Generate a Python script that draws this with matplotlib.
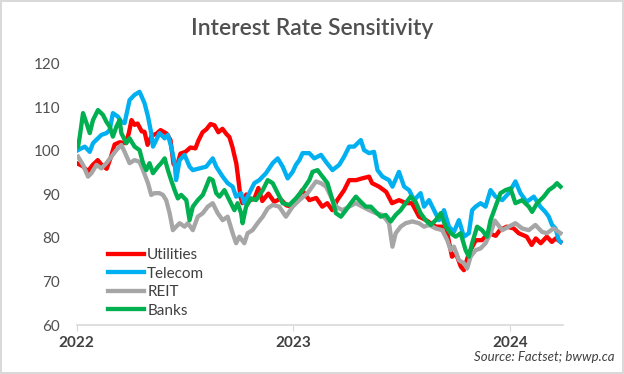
import numpy as np
import matplotlib.pyplot as plt

# time in fractional years, values are index levels
util_t = [0.000, 0.028, 0.051, 0.074, 0.097, 0.115, 0.138, 0.157, 0.175, 0.198,
          0.226, 0.240, 0.253, 0.267, 0.281, 0.300, 0.313, 0.327, 0.346, 0.369,
          0.387, 0.415, 0.433, 0.447, 0.461, 0.479, 0.502, 0.525, 0.548, 0.562,
          0.581, 0.599, 0.618, 0.636, 0.654, 0.673, 0.691, 0.705, 0.719, 0.737,
          0.747, 0.756, 0.765, 0.783, 0.802, 0.820, 0.839, 0.857, 0.885, 0.912,
          0.940, 0.968, 0.995, 1.023, 1.041, 1.074, 1.106, 1.134, 1.157, 1.180,
          1.203, 1.235, 1.258, 1.290, 1.318, 1.350, 1.364, 1.396, 1.429, 1.456,
          1.488, 1.521, 1.548, 1.581, 1.613, 1.659, 1.705, 1.733, 1.751, 1.774,
          1.788, 1.811, 1.843, 1.871, 1.903, 1.935, 1.954, 1.986, 2.018, 2.041,
          2.078, 2.101, 2.120, 2.143, 2.171, 2.194, 2.212, 2.235]
util_v = [97.2, 96.5, 95.3, 96.8, 97.9, 96.8, 95.9, 98.5, 101.5, 102.0,
          101.8, 104.0, 107.1, 106.0, 106.3, 104.5, 104.4, 101.4, 103.5, 104.0,
          104.8, 104.0, 102.5, 97.0, 96.3, 99.4, 99.8, 100.8, 100.6, 102.4,
          104.3, 105.0, 106.2, 105.9, 104.3, 105.1, 103.9, 103.2, 100.9, 97.1,
          93.2, 89.5, 88.0, 90.0, 88.7, 89.0, 91.5, 88.5, 90.2, 88.3,
          89.0, 87.5, 87.2, 89.4, 91.0, 88.7, 89.2, 87.2, 88.0, 86.4,
          88.7, 91.0, 93.3, 93.3, 93.7, 94.1, 92.6, 91.8, 90.6, 88.0,
          88.7, 88.0, 88.0, 84.9, 84.1, 82.6, 82.6, 75.7, 76.5, 73.4,
          72.6, 76.5, 79.5, 79.5, 81.1, 80.5, 81.8, 82.6, 82.2, 81.1,
          80.3, 78.4, 79.9, 78.8, 80.3, 79.1, 79.9, 79.1]

tel_t = [0.006, 0.037, 0.060, 0.075, 0.114, 0.137, 0.152, 0.167, 0.190, 0.206,
         0.221, 0.244, 0.267, 0.290, 0.313, 0.329, 0.344, 0.352, 0.367, 0.382,
         0.406, 0.421, 0.436, 0.452, 0.459, 0.475, 0.498, 0.521, 0.536, 0.567,
         0.598, 0.628, 0.644, 0.674, 0.697, 0.720, 0.736, 0.759, 0.774, 0.797,
         0.820, 0.843, 0.874, 0.905, 0.928, 0.951, 0.974, 0.997, 1.012, 1.028,
         1.043, 1.074, 1.097, 1.128, 1.151, 1.181, 1.212, 1.235, 1.258, 1.281,
         1.312, 1.327, 1.350, 1.373, 1.389, 1.412, 1.442, 1.458, 1.488, 1.512,
         1.535, 1.558, 1.588, 1.604, 1.627, 1.650, 1.673, 1.696, 1.719, 1.742,
         1.765, 1.788, 1.811, 1.826, 1.842, 1.865, 1.888, 1.911, 1.934, 1.965,
         1.995, 2.026, 2.049, 2.078, 2.111, 2.141, 2.164, 2.180, 2.195, 2.211,
         2.226, 2.234]
tel_v = [100.2, 101.0, 99.8, 101.8, 103.7, 104.1, 104.8, 108.7, 107.9, 106.7,
         106.4, 111.7, 112.9, 113.6, 111.0, 107.9, 104.1, 101.0, 102.5, 104.1,
         102.9, 103.7, 101.0, 97.2, 93.3, 97.9, 99.1, 96.4, 95.6, 96.0,
         96.4, 98.3, 96.4, 94.1, 92.6, 91.8, 89.5, 90.3, 88.0, 90.3,
         92.6, 93.3, 94.9, 97.2, 98.3, 96.4, 93.7, 95.2, 96.8, 97.9,
         99.5, 99.5, 98.3, 99.1, 97.5, 95.6, 96.8, 98.7, 101.0, 101.0,
         102.5, 100.2, 99.5, 99.8, 95.6, 94.1, 93.3, 91.8, 95.2, 91.8,
         91.0, 88.7, 90.3, 87.2, 88.7, 86.4, 84.1, 86.4, 82.6, 81.4,
         84.1, 80.3, 81.1, 86.4, 87.2, 88.0, 87.2, 91.0, 89.5, 88.7,
         90.3, 93.0, 90.3, 88.3, 89.5, 87.2, 86.0, 84.9, 83.0, 82.2,
         79.5, 79.1]

reit_t = [0.006, 0.029, 0.052, 0.068, 0.091, 0.114, 0.137, 0.160, 0.183, 0.206,
          0.221, 0.244, 0.267, 0.290, 0.306, 0.329, 0.344, 0.359, 0.382, 0.398,
          0.413, 0.429, 0.444, 0.459, 0.475, 0.498, 0.513, 0.536, 0.559, 0.582,
          0.605, 0.628, 0.651, 0.674, 0.697, 0.720, 0.736, 0.751, 0.774, 0.789,
          0.812, 0.835, 0.859, 0.882, 0.905, 0.935, 0.966, 0.997, 1.028, 1.066,
          1.105, 1.128, 1.151, 1.174, 1.197, 1.227, 1.258, 1.289, 1.319, 1.350,
          1.381, 1.412, 1.442, 1.458, 1.473, 1.496, 1.519, 1.550, 1.581, 1.604,
          1.627, 1.658, 1.688, 1.711, 1.727, 1.742, 1.765, 1.788, 1.803, 1.819,
          1.842, 1.865, 1.888, 1.911, 1.931, 1.965, 1.995, 2.026, 2.057, 2.088,
          2.118, 2.149, 2.171, 2.203, 2.234]
reit_v = [98.7, 96.8, 94.1, 94.9, 96.8, 96.0, 97.2, 98.7, 100.2, 101.4,
          99.8, 97.2, 97.9, 97.5, 95.6, 92.6, 89.9, 90.3, 90.3, 89.9,
          88.7, 85.7, 81.8, 82.6, 83.4, 82.6, 83.4, 81.8, 84.9, 85.7,
          87.2, 88.0, 85.7, 84.1, 84.9, 81.1, 78.8, 80.3, 78.8, 81.1,
          81.8, 83.4, 84.9, 86.8, 87.6, 87.2, 84.9, 87.2, 88.7, 90.3,
          93.0, 92.6, 91.8, 89.5, 87.2, 86.4, 87.2, 88.0, 87.2, 86.4,
          85.7, 85.3, 83.4, 78.0, 81.1, 82.6, 83.4, 83.8, 83.4, 82.6,
          83.0, 82.2, 81.8, 79.5, 77.2, 78.0, 74.9, 74.2, 73.0, 75.7,
          77.2, 77.6, 78.8, 81.1, 84.0, 81.8, 82.6, 83.4, 82.2, 81.8,
          83.0, 81.4, 81.1, 82.2, 81.1]

bank_t = [0.006, 0.014, 0.029, 0.045, 0.060, 0.075, 0.098, 0.121, 0.137, 0.152,
          0.167, 0.183, 0.198, 0.206, 0.229, 0.244, 0.267, 0.290, 0.306, 0.321,
          0.336, 0.352, 0.375, 0.390, 0.406, 0.421, 0.436, 0.452, 0.467, 0.482,
          0.506, 0.521, 0.536, 0.559, 0.582, 0.598, 0.613, 0.628, 0.644, 0.659,
          0.682, 0.705, 0.728, 0.743, 0.759, 0.766, 0.782, 0.805, 0.828, 0.859,
          0.882, 0.905, 0.928, 0.951, 0.982, 1.012, 1.043, 1.074, 1.089, 1.112,
          1.135, 1.158, 1.181, 1.197, 1.220, 1.243, 1.266, 1.289, 1.312, 1.335,
          1.358, 1.381, 1.404, 1.427, 1.450, 1.473, 1.496, 1.519, 1.542, 1.565,
          1.588, 1.611, 1.635, 1.658, 1.681, 1.704, 1.727, 1.750, 1.773, 1.796,
          1.811, 1.826, 1.849, 1.872, 1.895, 1.911, 1.934, 1.957, 1.980, 2.003,
          2.026, 2.057, 2.088, 2.103, 2.126, 2.157, 2.180, 2.203, 2.218, 2.234]
bank_v = [101.0, 103.3, 108.7, 106.4, 104.1, 107.1, 109.4, 108.3, 106.7, 105.6,
          103.3, 105.6, 107.1, 104.1, 101.8, 102.9, 101.0, 100.2, 97.2, 95.6,
          97.2, 94.9, 96.4, 97.2, 98.3, 95.6, 93.3, 91.0, 89.1, 89.9,
          88.7, 84.1, 87.2, 88.7, 89.9, 91.8, 93.7, 93.3, 90.3, 89.5,
          91.0, 88.7, 86.4, 88.0, 85.7, 83.4, 87.2, 89.1, 88.7, 91.0,
          93.3, 92.6, 90.3, 88.0, 87.6, 89.1, 91.0, 93.3, 95.2, 95.6,
          94.1, 92.6, 88.7, 85.7, 84.9, 86.4, 88.0, 89.5, 88.3, 87.2,
          87.2, 86.0, 84.9, 85.3, 83.8, 85.3, 86.4, 88.0, 89.5, 88.3,
          85.7, 84.1, 83.0, 84.1, 85.7, 82.6, 81.1, 80.3, 81.1, 77.2,
          75.7, 78.8, 82.6, 81.8, 80.3, 84.1, 87.2, 90.3, 91.0, 91.4,
          88.0, 88.7, 87.2, 86.0, 88.0, 89.5, 91.0, 91.8, 92.6, 91.8]

series = [('Utilities', util_t, util_v, '#FF0000'),
          ('Telecom', tel_t, tel_v, '#00B0F0'),
          ('REIT', reit_t, reit_v, '#A6A6A6'),
          ('Banks', bank_t, bank_v, '#00B050')]

plt.rcParams['font.family'] = ['Lato', 'DejaVu Sans']

fig = plt.figure(figsize=(6.24, 3.74), dpi=100)
fig.patch.set_edgecolor('#d9d9d9')
fig.patch.set_linewidth(1.5)
ax = fig.add_axes([0.123, 0.131, 0.779, 0.698])

for name, t, v, c in series:
    ax.plot(2022 + np.array(t), v, c=c, lw=3.1, label=name,
            solid_joinstyle='round')

ax.set_xlim(2022, 2024.245)
ax.set_ylim(60, 120)
ax.set_yticks(range(60, 121, 10))
ax.set_xticks([2022, 2023, 2024])
ax.set_xticklabels(['2022', '2023', '2024'], fontweight='bold')
for s in ['top', 'right', 'left']:
    ax.spines[s].set_visible(False)
ax.spines['bottom'].set_color('#d9d9d9')
ax.spines['bottom'].set_linewidth(1.2)
ax.tick_params(axis='y', length=0, labelsize=11, colors='#505050', pad=12)
ax.tick_params(axis='x', length=4, color='#d9d9d9', labelsize=11,
               labelcolor='#404040', pad=4)

fig.text(0.5, 0.925, 'Interest Rate Sensitivity', ha='center', va='center',
         fontsize=16.5, color='#505050', fontweight='semibold')
fig.text(0.985, 0.045, 'Source: Factset; bwwp.ca', ha='right', va='center',
         fontsize=9.5, style='italic', color='#404040')

ax.legend(loc='lower left', bbox_to_anchor=(0.035, -0.025), frameon=False,
          fontsize=11, handlelength=2.4, handletextpad=0.2,
          labelspacing=0.3, labelcolor='#404040')

fig.savefig('out.png', dpi=100)
